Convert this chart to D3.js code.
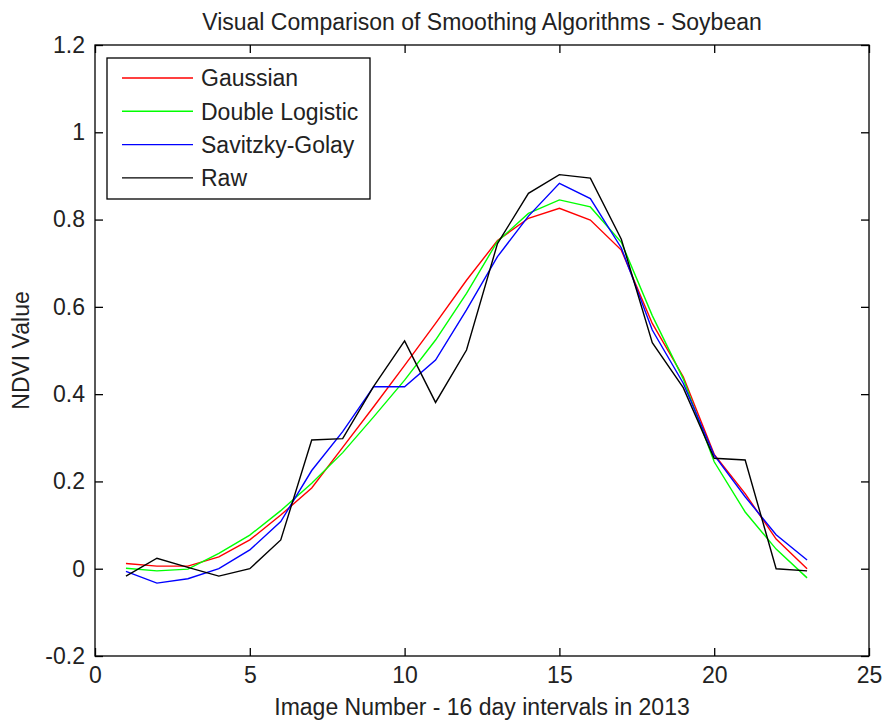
<!DOCTYPE html>
<html lang="en">
<head>
	<meta charset="utf-8">
	<title>Smoothing comparison - Soybean</title>
	<script src="https://d3js.org/d3.v7.min.js"></script>
	<style type="text/css">
		body {
			margin: 0;
			background-color: #fff;
		}
		svg {
			display: block;
			font-family: "Liberation Sans", Arial, sans-serif;
		}
		.axis path {
			display: none;
		}
		.axis line {
			stroke: #000;
			stroke-width: 1.3;
		}
		.axis text {
			font-size: 23px;
			fill: #222;
		}
	</style>
</head>
<body>
	<script type="text/javascript">

		//Image numbers along x
		var imageNum = d3.range(1, 24);

		//NDVI values
		var gaussian = [0.012, 0.006, 0.006, 0.027, 0.066, 0.123, 0.185, 0.278, 0.371, 0.466, 0.562, 0.661,
			0.752, 0.803, 0.826, 0.799, 0.730, 0.562, 0.440, 0.262, 0.172, 0.068, 0.000];
		var doubleLogistic = [0.001, -0.005, -0.001, 0.035, 0.077, 0.133, 0.196, 0.266, 0.348, 0.432, 0.524, 0.631,
			0.750, 0.814, 0.845, 0.829, 0.748, 0.580, 0.435, 0.245, 0.130, 0.045, -0.021];
		var savitzkyGolay = [-0.006, -0.033, -0.023, 0.000, 0.043, 0.108, 0.225, 0.314, 0.417, 0.417, 0.478, 0.593,
			0.715, 0.808, 0.883, 0.848, 0.735, 0.547, 0.425, 0.260, 0.165, 0.078, 0.020];
		var raw = [-0.017, 0.024, 0.003, -0.017, 0.000, 0.066, 0.295, 0.298, 0.418, 0.522, 0.381, 0.501,
			0.745, 0.860, 0.903, 0.895, 0.755, 0.518, 0.415, 0.253, 0.249, 0.000, -0.005];

		var seriesNames = ["Gaussian", "Double Logistic", "Savitzky-Golay", "Raw"];
		var seriesColors = ["#ff0000", "#00ff00", "#0000ff", "#000000"];
		var seriesValues = [gaussian, doubleLogistic, savitzkyGolay, raw];

		//Ticks
		var xTicks = [0, 5, 10, 15, 20, 25];
		var yTicks = [-0.2, 0, 0.2, 0.4, 0.6, 0.8, 1, 1.2];

		//Width and height
		var w = 883;
		var h = 726;
		var margin = { top: 45, right: 14, bottom: 70, left: 95 };
		var pw = w - margin.left - margin.right;
		var ph = h - margin.top - margin.bottom;

		var svg = d3.select("body")
			.append("svg")
			.attr("width", w)
			.attr("height", h);

		var g = svg.append("g")
			.attr("transform", "translate(" + margin.left + "," + margin.top + ")");

		var x = d3.scaleLinear().domain([0, 25]).range([0, pw]);
		var y = d3.scaleLinear().domain([-0.2, 1.2]).range([ph, 0]);

		var fmt = function(d) { return String(+d.toFixed(1)); };

		//Axes, ticks pointing inwards, on all four sides
		g.append("g")
			.attr("class", "axis")
			.attr("transform", "translate(0," + ph + ")")
			.call(d3.axisBottom(x).tickValues(xTicks).tickSize(-8).tickPadding(11).tickFormat(fmt));
		g.append("g")
			.attr("class", "axis")
			.call(d3.axisTop(x).tickValues(xTicks).tickSize(-8).tickFormat(""));
		g.append("g")
			.attr("class", "axis")
			.call(d3.axisLeft(y).tickValues(yTicks).tickSize(-8).tickPadding(10).tickFormat(fmt));
		g.append("g")
			.attr("class", "axis")
			.attr("transform", "translate(" + pw + ",0)")
			.call(d3.axisRight(y).tickValues(yTicks).tickSize(-8).tickFormat(""));

		//Plot frame
		g.append("rect")
			.attr("width", pw)
			.attr("height", ph)
			.style("fill", "none")
			.style("stroke", "#000")
			.style("stroke-width", 1.3);

		//Lines
		var line = d3.line()
			.x(function(d, i) { return x(imageNum[i]); })
			.y(function(d) { return y(d); });

		g.selectAll("path.series")
			.data(seriesValues)
			.enter()
			.append("path")
			.attr("class", "series")
			.attr("d", line)
			.style("fill", "none")
			.style("stroke", function(d, i) { return seriesColors[i]; })
			.style("stroke-width", 1.4);

		//Legend
		var legend = g.append("g")
			.attr("transform", "translate(12,13)");
		legend.append("rect")
			.attr("width", 263)
			.attr("height", 141)
			.style("fill", "#fff")
			.style("stroke", "#000")
			.style("stroke-width", 1.3);
		var item = legend.selectAll("g.item")
			.data(seriesNames)
			.enter()
			.append("g")
			.attr("class", "item")
			.attr("transform", function(d, i) { return "translate(0," + (20 + i * 33.3) + ")"; });
		item.append("line")
			.attr("x1", 15)
			.attr("x2", 86)
			.style("stroke", function(d, i) { return seriesColors[i]; })
			.style("stroke-width", 1.4);
		item.append("text")
			.attr("x", 94)
			.attr("dy", "0.36em")
			.style("font-size", "23px")
			.style("fill", "#222")
			.text(function(d) { return d; });

		//Title and axis labels
		svg.append("text")
			.attr("x", margin.left + pw / 2)
			.attr("y", 30)
			.attr("text-anchor", "middle")
			.style("font-size", "23px")
			.style("fill", "#222")
			.text("Visual Comparison of Smoothing Algorithms - Soybean");
		svg.append("text")
			.attr("x", margin.left + pw / 2)
			.attr("y", 715)
			.attr("text-anchor", "middle")
			.style("font-size", "23px")
			.style("fill", "#222")
			.text("Image Number - 16 day intervals in 2013");
		svg.append("text")
			.attr("transform", "translate(29," + (margin.top + ph / 2) + ") rotate(-90)")
			.attr("text-anchor", "middle")
			.style("font-size", "23px")
			.style("fill", "#222")
			.text("NDVI Value");

	</script>
</body>
</html>
